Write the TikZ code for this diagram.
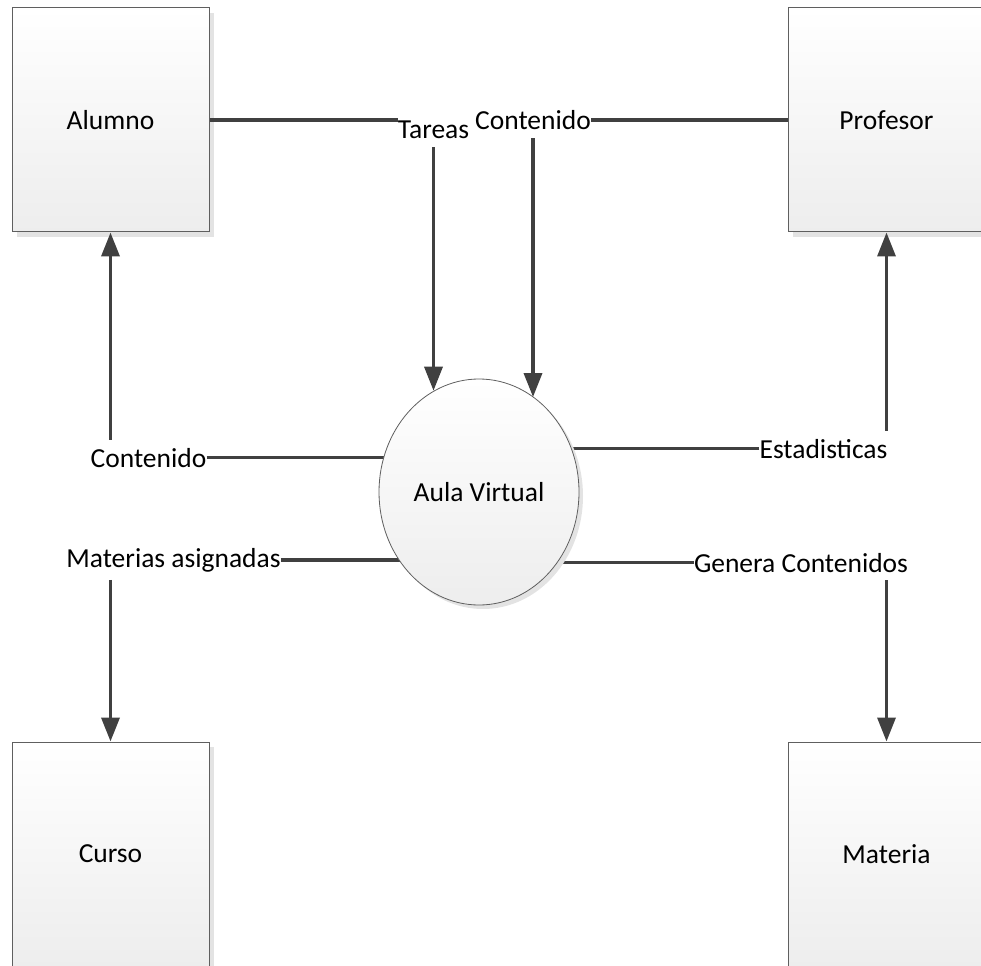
\documentclass[tikz,border=0pt]{standalone}
\usepackage{fontspec}
\setmainfont{Carlito}
\usetikzlibrary{arrows.meta, positioning, shapes.geometric, shadows, backgrounds}
\definecolor{dfdLine}{RGB}{64,64,64}
\definecolor{dfdEdge}{RGB}{95,95,95}

\begin{document}
\begin{tikzpicture}[x=1pt, y=-1pt,
    font=\fontsize{27.5}{33}\selectfont,
    entity/.style={rectangle, draw=dfdEdge, line width=1pt,
      top color=white, bottom color=black!7,
      minimum width=197pt, minimum height=224pt, inner sep=0pt,
      drop shadow={shadow xshift=5pt, shadow yshift=-5pt, fill=black!11, opacity=1}},
    process/.style={ellipse, draw=dfdEdge, line width=0.8pt,
      top color=white, bottom color=black!7,
      minimum width=200pt, minimum height=226pt, inner sep=0pt,
      drop shadow={shadow xshift=4pt, shadow yshift=-4pt, fill=black!11, opacity=1}},
    flow/.style={draw=dfdLine, line width=3.5pt},
    flowtip/.style={flow, -{Triangle[length=24pt, width=18pt]}},
    lbl/.style={anchor=base, inner xsep=0pt, inner ysep=8pt}]
  \useasboundingbox (0,0) rectangle (981,965);
  \clip (0,0) rectangle (981,965);

  % External entities
  \node[entity] (alumno)   at (110.5,120) {Alumno};
  \node[entity] (profesor) at (886.5,120) {Profesor};
  \node[entity] (curso)    at (110.5,854) {Curso};
  \node[entity] (materia)  at (886.5,854) {Materia};

  % Process
  \node[process] (aula) at (479,492) {Aula Virtual};

  % Flow labels
  \node[lbl] (tareas) at (433.5,139) {Tareas};
  \node[lbl] (ctop)   at (533,130)   {Contenido};
  \node[lbl] (cleft)  at (148.5,467) {Contenido};
  \node[lbl] (masig)  at (173.5,567) {Materias asignadas};
  \node[lbl] (est)    at (823.5,458) {Estadisticas};
  \node[lbl] (gen)    at (801,572)   {Genera Contenidos};

  % Flows into the process
  \draw[flow] (alumno.east) -- (alumno.east -| tareas.west);
  \draw[flowtip] (tareas.south) -- (tareas.south |- aula.114.6);
  \draw[flow] (profesor.west) -- (profesor.west -| ctop.east);
  \draw[flowtip] (ctop.south) -- (ctop.south |- aula.60.4);

  % Flows out of the process
  \begin{scope}[on background layer]
    \draw[flow] (cleft.east) -- (aula.center |- cleft.east);
    \draw[flow] (masig.east) -- (aula.center |- masig.east);
    \draw[flow] (est.west)   -- (aula.center |- est.west);
    \draw[flow] (gen.west)   -- (aula.center |- gen.west);
  \end{scope}
  \draw[flowtip] (cleft.north -| alumno.south)  -- (alumno.south);
  \draw[flowtip] (masig.south -| curso.north)   -- (curso.north);
  \draw[flowtip] (est.north -| profesor.south)  -- (profesor.south);
  \draw[flowtip] (gen.south -| materia.north)   -- (materia.north);
\end{tikzpicture}
\end{document}
